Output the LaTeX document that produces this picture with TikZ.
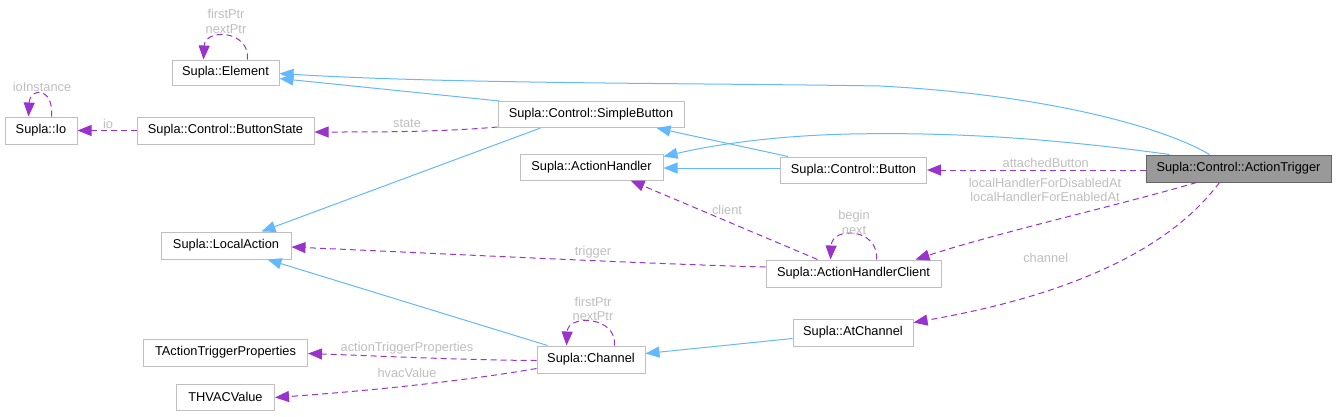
\documentclass[tikz,border=0pt]{standalone}
\usepackage{fontspec}
\setmainfont{Liberation Sans}
\usetikzlibrary{arrows.meta}
\definecolor{inhblue}{HTML}{63B8FF}
\definecolor{usepurple}{HTML}{9A32CD}
\definecolor{lblgrey}{HTML}{BEBEBE}
\definecolor{boxgrey}{HTML}{BFBFBF}
\definecolor{mainfill}{HTML}{999999}
\definecolor{mainborder}{HTML}{666666}
\begin{document}
\begin{tikzpicture}[x=1pt,y=-1pt,
 cls/.style={draw=boxgrey, fill=white, line width=1pt, inner sep=0pt, minimum height=27pt, font=\fontsize{12.8}{15}\selectfont},
 mainc/.style={cls, draw=mainborder, fill=mainfill},
 inh/.style={draw=inhblue, line width=1pt, -{Triangle[length=14pt,width=11pt]}},
 usg/.style={draw=usepurple, line width=1pt, dash pattern=on 6pt off 4pt, -{Triangle[length=14pt,width=11pt]}},
 lbl/.style={text=lblgrey, font=\fontsize{12.8}{14.5}\selectfont, inner sep=0pt, align=center}]
\useasboundingbox (0,0) rectangle (1336,416);

% nodes
\node[cls, minimum width=107pt, minimum height=25pt] (el) at (225.5,72.5) {Supla::Element};
\node[cls, minimum width=72pt] (io) at (41,130.5) {Supla::Io};
\node[cls, minimum width=177pt] (bs) at (225.5,130.5) {Supla::Control::ButtonState};
\node[cls, minimum width=186pt, minimum height=26pt] (sb) at (591,114.5) {Supla::Control::SimpleButton};
\node[cls, minimum width=143pt, minimum height=26pt] (ah) at (591.5,167) {Supla::ActionHandler};
\node[cls, minimum width=146pt, minimum height=26pt] (bt) at (853.5,170) {Supla::Control::Button};
\node[mainc, minimum width=185pt] (at) at (1238.5,168.5) {Supla::Control::ActionTrigger};
\node[cls, minimum width=130pt] (la) at (226,245.5) {Supla::LocalAction};
\node[cls, minimum width=175pt] (ahc) at (853.5,273.5) {Supla::ActionHandlerClient};
\node[cls, minimum width=120pt] (atc) at (853,332.5) {Supla::AtChannel};
\node[cls, minimum width=108pt] (ch) at (591,359.5) {Supla::Channel};
\node[cls, minimum width=164pt] (tatp) at (225.5,352.5) {TActionTriggerProperties};
\node[cls, minimum width=98pt, minimum height=26pt] (thv) at (225.5,397) {THVACValue};

% inheritance edges
\draw[inh] ([xshift=64pt]at.north west) .. controls (1165,128) and (1050,95) .. (880,86) .. controls (700,83) and (450,84) .. ([yshift=-14pt]el.north east);
\draw[inh] ([xshift=2pt]sb.north west) -- ([yshift=-19pt]el.north east);
\draw[inh] ([xshift=43pt]sb.south west) -- ([xshift=101pt]la.north west);
\draw[inh] ([xshift=8pt]bt.north west) -- ([xshift=-28pt]sb.south east);
\draw[inh] ([yshift=2pt]bt.west) -- ([yshift=-1pt]ah.east);
\draw[inh] ([xshift=24pt]at.north west) .. controls (1050,138) and (950,132) .. (850,134) .. controls (760,136) and (700,148) .. ([yshift=-3pt]ah.north east);
\draw[inh] ([xshift=11pt]ch.north west) -- ([xshift=107pt]la.south west);
\draw[inh] ([yshift=-20pt]atc.north west) -- ([yshift=-8pt]ch.north east);

% usage edges
\draw[usg] ([yshift=1pt]sb.south west) .. controls (440,132) and (380,132) .. ([yshift=-1.5pt]bs.east);
\draw[usg] (bs.west) -- (io.east);
\draw[usg] ([xshift=47pt]io.north west) .. controls (54,87) and (30,87) .. ([xshift=24pt]io.north west);
\draw[usg] ([xshift=76pt]el.north west) .. controls (250,30) and (205,28) .. ([xshift=32pt]el.north west);
\draw[usg] ([yshift=-1.5pt]at.west) -- (bt.east);
\draw[usg] ([xshift=51pt]at.south west) .. controls (1120,205) and (1000,232) .. ([xshift=-26pt]ahc.north east);
\draw[usg] ([xshift=74pt]at.south west) .. controls (1180,235) and (1100,290) .. ([yshift=-4pt]atc.north east);
\draw[usg] ([xshift=52pt]ahc.north west) -- ([xshift=111pt]ah.south west);
\draw[usg] ([xshift=111pt]ahc.north west) .. controls (879,228) and (832,226) .. ([xshift=65pt]ahc.north west);
\draw[usg] ([yshift=-7.5pt]ahc.north west) .. controls (650,264) and (450,254) .. ([yshift=-1.5pt]la.east);
\draw[usg] ([yshift=-15pt]ch.north west) .. controls (460,360) and (380,356) .. ([yshift=-15pt]tatp.north east);
\draw[usg] ([yshift=-23pt]ch.north west) .. controls (470,380) and (380,390) .. ([yshift=-14pt]thv.north east);
\draw[usg] ([xshift=78pt]ch.north west) .. controls (617,316) and (568,314) .. ([xshift=30pt]ch.north west);

% labels
\node[lbl] (l1) at (226,21.5) {firstPtr\\nextPtr};
\node[lbl] (l2) at (42,87) {ioInstance};
\node[lbl] (l3) at (108,124) {io};
\node[lbl] (l4) at (407,123) {state};
\node[lbl] (l5) at (1045.7,163) {attachedButton};
\node[lbl] (l6) at (1045,190) {localHandlerForDisabledAt\\localHandlerForEnabledAt};
\node[lbl] (l7) at (1045.7,258) {channel};
\node[lbl] (l8) at (727,210) {client};
\node[lbl] (l9) at (854,222.5) {begin\\next};
\node[lbl] (l10) at (593,252) {trigger};
\node[lbl] (l11) at (593,309) {firstPtr\\nextPtr};
\node[lbl] (l12) at (407,348) {actionTriggerProperties};
\node[lbl] (l13) at (407,373) {hvacValue};
\end{tikzpicture}
\end{document}
